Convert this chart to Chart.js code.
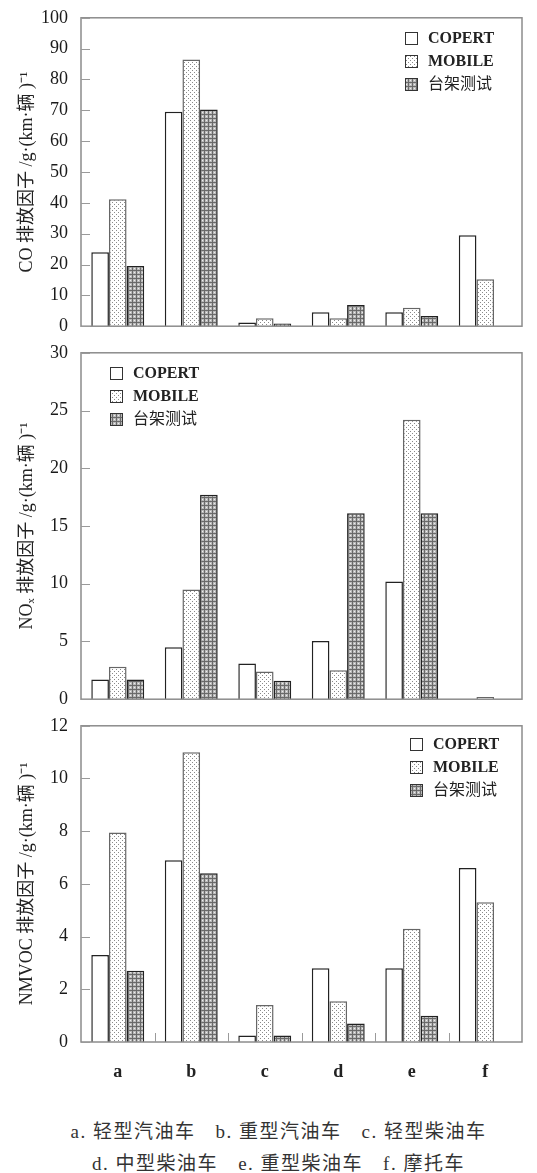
<!DOCTYPE html>
<html>
<head>
<meta charset="utf-8">
<script src="https://cdn.jsdelivr.net/npm/chart.js@4.4.0/dist/chart.umd.min.js"></script>
<style>
body{margin:0;background:#fff;width:537px;height:1173px;position:relative;overflow:hidden}
.panel{position:absolute;left:0;width:537px}
.note{position:absolute;left:10px;width:537px;text-align:center;font-family:"Liberation Serif","Noto Sans CJK SC",serif;font-size:19px;color:#333;letter-spacing:1.5px;white-space:nowrap}
.note span{margin:0 10px}
</style>
</head>
<body>
<div class="panel" style="top:-6px;height:356px"><canvas id="co" width="537" height="356"></canvas></div>
<div class="panel" style="top:329px;height:394px"><canvas id="nox" width="537" height="394"></canvas></div>
<div class="panel" style="top:702px;height:391px"><canvas id="voc" width="537" height="391"></canvas></div>
<div class="note" style="top:1116px">a. 轻型汽油车<span></span>b. 重型汽油车<span></span>c. 轻型柴油车</div>
<div class="note" style="top:1148px">d. 中型柴油车<span></span>e. 重型柴油车<span></span>f. 摩托车</div>
<script>
var categories = ['a', 'b', 'c', 'd', 'e', 'f'];
var seriesNames = ['COPERT', 'MOBILE', '台架测试'];

// CO
var coCopert = [24, 69.5, 1.2, 4.5, 4.5, 29.5];
var coMobile = [41.2, 86.5, 2.6, 2.6, 6, 15.2];
var coTest = [19.5, 70.3, 0.9, 6.9, 3.3, null];

// NOx
var noxCopert = [1.7, 4.5, 3.1, 5.05, 10.2, null];
var noxMobile = [2.8, 9.5, 2.4, 2.5, 24.2, 0.2];
var noxTest = [1.7, 17.7, 1.6, 16.1, 16.1, null];

// NMVOC
var vocCopert = [3.3, 6.9, 0.25, 2.8, 2.8, 6.6];
var vocMobile = [7.95, 11, 1.4, 1.55, 4.3, 5.3];
var vocTest = [2.7, 6.4, 0.25, 0.7, 1.0, null];

function makePattern(kind){
    var c = document.createElement('canvas');
    c.width = 4; c.height = 4;
    var g = c.getContext('2d');
    if(kind == 'dots'){
        g.fillStyle = '#fff'; g.fillRect(0,0,4,4);
        g.fillStyle = '#8a8a8a'; g.fillRect(0,0,1,1); g.fillRect(2,2,1,1);
    }else{
        g.fillStyle = '#bababa'; g.fillRect(0,0,4,4);
        g.fillStyle = '#6a6a6a'; g.fillRect(0,0,4,1); g.fillRect(0,0,1,4);
        g.fillStyle = '#eeeeee'; g.fillRect(2,2,1,1);
    }
    return g.createPattern(c, 'repeat');
}
var fills = ['#ffffff', makePattern('dots'), makePattern('grid')];
var borders = ['#222', '#666', '#222'];

// frame, inward ticks and legend
var framePlugin = {
    id: 'frame',
    afterDatasetsDraw: function(chart, args, opts){
        var a = chart.chartArea, ctx = chart.ctx;
        ctx.save();
        ctx.strokeStyle = '#8c8c8c'; ctx.lineWidth = 1.5;
        ctx.strokeRect(a.left, a.top, a.right - a.left, a.bottom - a.top);

        var y = chart.scales.y;
        ctx.strokeStyle = '#9a9a9a'; ctx.lineWidth = 1;
        y.ticks.forEach(function(t){
            var py = Math.round(y.getPixelForValue(t.value)) + 0.5;
            ctx.beginPath(); ctx.moveTo(a.left, py); ctx.lineTo(a.left + 9, py); ctx.stroke();
        });
        if(opts.xTicks){
            var x = chart.scales.x;
            for(var i = 1; i < categories.length; i++){
                var px = Math.round((x.getPixelForValue(i-1) + x.getPixelForValue(i)) / 2) + 0.5;
                ctx.beginPath(); ctx.moveTo(px, a.bottom); ctx.lineTo(px, a.bottom - 9); ctx.stroke();
            }
        }

        chart.data.datasets.forEach(function(ds, i){
            var yy = opts.legendY + i * 23;
            ctx.fillStyle = ds.backgroundColor;
            ctx.fillRect(opts.legendX, yy - 6, 12, 12);
            ctx.strokeStyle = '#333'; ctx.lineWidth = 1;
            ctx.strokeRect(opts.legendX + 0.5, yy - 5.5, 12, 12);
            ctx.fillStyle = '#222';
            ctx.font = (i < 2 ? 'bold ' : '') + '16px "Liberation Serif", "Noto Sans CJK SC"';
            ctx.textBaseline = 'middle';
            ctx.fillText(ds.label, opts.legendX + 23, yy + 1);
        });
        ctx.restore();
    }
};

function makeChart(id, values, yMax, step, title, legendX, legendY, showX, pad){
    var ctx = document.getElementById(id).getContext('2d');
    return new Chart(ctx, {
        type: 'bar',
        data: {
            labels: categories,
            datasets: values.map(function(v, i){
                return {
                    label: seriesNames[i],
                    data: v,
                    backgroundColor: fills[i],
                    borderColor: borders[i],
                    borderWidth: 1.5,
                    borderSkipped: 'bottom'
                };
            })
        },
        options: {
            responsive: false,
            animation: false,
            layout: { padding: { left: 0, right: 15, top: pad[0], bottom: pad[1] } },
            datasets: { bar: { categoryPercentage: 0.72, barPercentage: 1 } },
            plugins: {
                legend: { display: false },
                tooltip: { enabled: false },
                frame: { legendX: legendX, legendY: legendY, xTicks: showX }
            },
            scales: {
                x: {
                    display: showX,
                    grid: { display: false },
                    border: { display: false },
                    ticks: { color: '#222', padding: 12, font: { family: 'Liberation Serif', size: 18, weight: 'bold' } },
                    afterFit: function(s){ s.height = showX ? 40 : 0; }
                },
                y: {
                    min: 0, max: yMax,
                    grid: { display: false, drawTicks: false },
                    border: { display: false },
                    ticks: { stepSize: step, padding: 13, color: '#1a1a1a', font: { family: 'Liberation Serif', size: 18 } },
                    title: { display: true, text: title, color: '#222', padding: { top: 16, bottom: 0 },
                             font: { family: '"Liberation Serif", "Noto Sans CJK SC"', size: 18 } },
                    afterFit: function(s){ s.width = 81; }
                }
            }
        },
        plugins: [framePlugin]
    });
}

// legend rows are in each canvas's own coordinates
var coChart = makeChart('co', [coCopert, coMobile, coTest], 100, 10,
    'CO 排放因子 /g·(km·辆 )⁻¹', 405, 44, false, [0, 0]);
var noxChart = makeChart('nox', [noxCopert, noxMobile, noxTest], 30, 5,
    'NOₓ 排放因子 /g·(km·辆 )⁻¹', 110, 44, false, [0, 0]);
var vocChart = makeChart('voc', [vocCopert, vocMobile, vocTest], 12, 2,
    'NMVOC 排放因子 /g·(km·辆 )⁻¹', 410, 42, true, [0, 11]);
</script>
</body>
</html>
